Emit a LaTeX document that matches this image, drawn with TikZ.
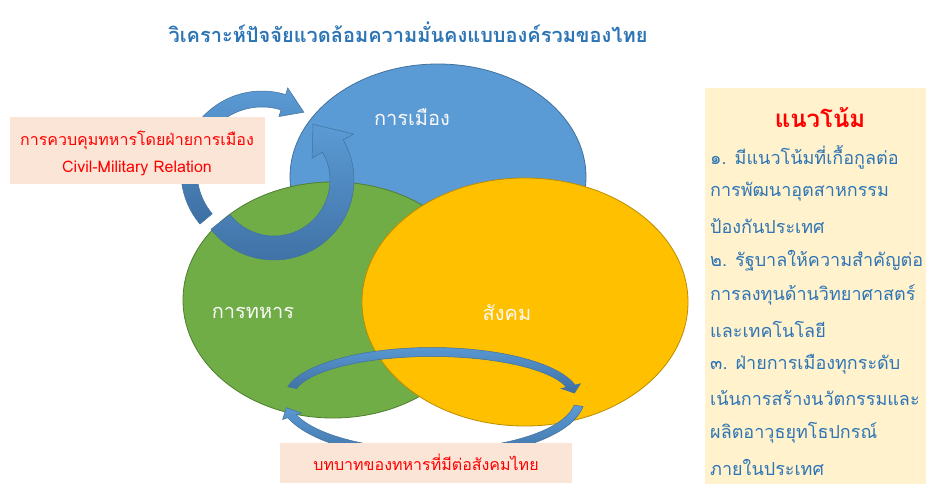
\documentclass[tikz,border=0pt]{standalone}
\usepackage{fontspec}
\newfontfamily\thai[Script=Thai]{Loma}
\usetikzlibrary{shapes.geometric}
\definecolor{polblue}{HTML}{5B9BD5}
\definecolor{polline}{HTML}{41719C}
\definecolor{milgreen}{HTML}{70AD47}
\definecolor{milline}{HTML}{507E32}
\definecolor{socyel}{HTML}{FFC000}
\definecolor{socline}{HTML}{BC8C00}
\definecolor{peach}{HTML}{FBE5D6}
\definecolor{cream}{HTML}{FFF2CC}
\definecolor{titleblue}{HTML}{2E75B6}
\definecolor{arrdark}{HTML}{3E6FA3}
\definecolor{arrlight}{HTML}{5B9BD5}
\definecolor{redtxt}{HTML}{FF0000}
\newcommand{\blkarc}[8]{%
  \path[#1] ({(#2+#4)*cos(#5)},{(#3+#4)*sin(#5)})
    arc[start angle=#5, end angle={#6-(#7)}, x radius={#2+#4}, y radius={#3+#4}]
    -- ({(#2+#8)*cos(#6-(#7))},{(#3+#8)*sin(#6-(#7))})
    -- ({#2*cos(#6)},{#3*sin(#6)})
    -- ({(#2-#8)*cos(#6-(#7))},{(#3-#8)*sin(#6-(#7))})
    -- ({(#2-#4)*cos(#6-(#7))},{(#3-#4)*sin(#6-(#7))})
    arc[start angle={#6-(#7)}, end angle=#5, x radius={#2-#4}, y radius={#3-#4}]
    -- cycle;}
\begin{document}
\begin{tikzpicture}[x=1pt,y=-1pt,
  ell/.style={ellipse, inner sep=0pt, line width=0.8pt},
  lbl/.style={font=\thai\fontsize{20}{24}\selectfont, text=white!95!gray},
  redt/.style={font=\thai\fontsize{16}{20}\selectfont, text=redtxt},
  rtext/.style={font=\thai\fontsize{18}{22}\selectfont, text=titleblue, anchor=west, inner sep=0pt},
  boxfill/.style={fill=peach, draw=none, inner sep=0pt},
  arrsh/.style={draw=polline, line width=0.5pt, top color=arrlight, bottom color=arrdark}
]
\useasboundingbox (0,0) rectangle (926,483);
\fill[white] (0,0) rectangle (926,483);

% title
\node[font=\thai\bfseries\fontsize{20}{24}\selectfont, text=titleblue] (title) at (408,32) {วิเคราะห์ปัจจัยแวดล้อมความมั่นคงแบบองค์รวมของไทย};

% ellipses
\node[ell, fill=polblue, draw=polline, minimum width=296pt, minimum height=226pt] (pol) at (438,177) {};
\node[ell, fill=milgreen, draw=milline, minimum width=300pt, minimum height=236pt] (mil) at (333,300) {};
\node[ell, fill=socyel, draw=socline, minimum width=326pt, minimum height=248pt] (soc) at (525,302) {};

\node[lbl] (polt) at (412,117) {การเมือง};
\node[lbl] (milt) at (253,313) {การทหาร};
\node[lbl] (soct) at (507,313) {สังคม};

% circular arrows top-left
\coordinate (ca) at (262,172);
\coordinate (cb) at (274,180);
\begin{scope}[shift={(ca)}]
  \blkarc{arrsh}{73}{73}{8}{140}{305}{18}{15}
\end{scope}
\begin{scope}[shift={(cb)}]
  \blkarc{arrsh}{68}{68}{12}{142}{-55}{-25}{24}
\end{scope}

% bottom arrows
\coordinate (cc) at (432,397);
\coordinate (cd) at (432,398);
\begin{scope}[shift={(cc)}]
  \blkarc{arrsh}{143}{45}{4.5}{192}{355}{9}{10}
\end{scope}
\begin{scope}[shift={(cd)}]
  \blkarc{arrsh}{148}{56}{4.5}{8}{170}{9}{10}
\end{scope}

% left box
\node[boxfill, minimum width=255pt, minimum height=67pt] (lbox) at (137.5,150.5) {};
\node[redt] (l1) at (137,140) {การควบคุมทหารโดยฝ่ายการเมือง};
\node[redt] (l2) at (137,168) {Civil-Military Relation};

% bottom box
\node[boxfill, minimum width=292pt, minimum height=40pt] (bbox) at (426,463) {};
\node[redt] (b1) at (426,462) {บทบาทของทหารที่มีต่อสังคมไทย};

% right box
\node[fill=cream, draw=none, inner sep=0pt, minimum width=230pt, minimum height=400pt, anchor=north west] (rbox) at (705,88) {};
\node[font=\thai\bfseries\fontsize{24}{28}\selectfont, text=redtxt] (rtitle) at (820,118) {แนวโน้ม};
\foreach \t [count=\i] in {๑. มีแนวโน้มที่เกื้อกูลต่อ, การพัฒนาอุตสาหกรรม, ป้องกันประเทศ, ๒. รัฐบาลให้ความสำคัญต่อ, การลงทุนด้านวิทยาศาสตร์, และเทคโนโลยี, ๓. ฝ่ายการเมืองทุกระดับ, เน้นการสร้างนวัตกรรมและ, ผลิตอาวุธยุทโธปกรณ์, ภายในประเทศ}
  \node[rtext] (r\i) at (710,{157+(\i-1)*34.5}) {\t};
\end{tikzpicture}
\end{document}
